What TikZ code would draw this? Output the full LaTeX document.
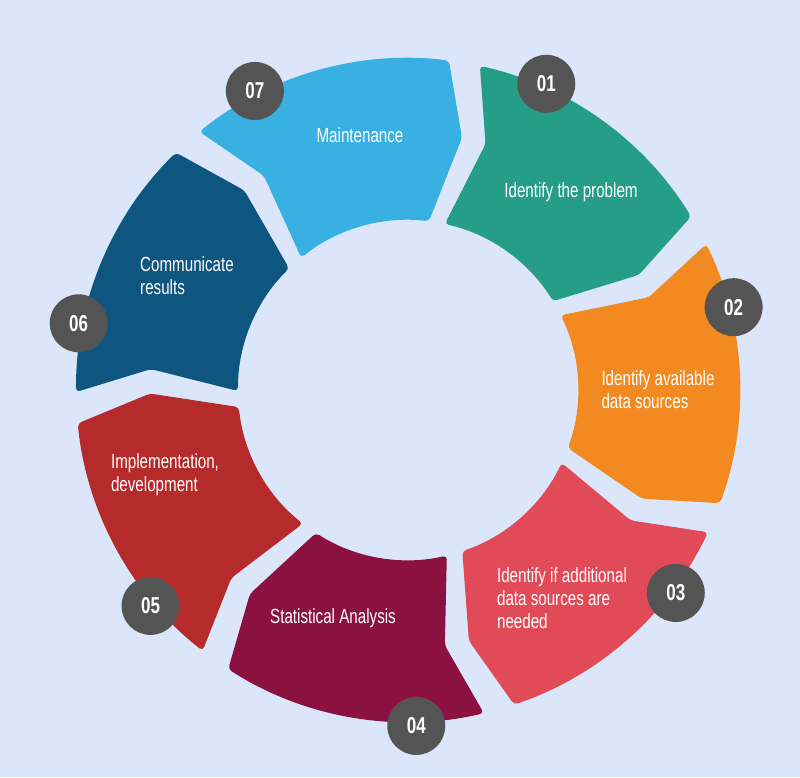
\documentclass[tikz,border=0pt]{standalone}
\usetikzlibrary{calc}
\usepackage{fontspec}
\setmainfont{Liberation Sans}[FakeStretch=0.74]
\begin{document}
\begin{tikzpicture}[x=1pt,y=1pt,
  seg/.style={rounded corners=4pt},
  badge/.style={circle,fill=black!67,minimum size=58pt,inner sep=0pt,text=white,font=\fontsize{23}{23}\selectfont\bfseries},
  lbl/.style={text=white,font=\fontsize{20.5}{23}\selectfont,align=left}]
\fill[color={rgb,255:red,220;green,230;blue,250}] (0,-777) rectangle (800,0);
\useasboundingbox (0,-777) rectangle (800,0);
\coordinate (c) at (408,-390);
\def\R{332}\def\Rm{258}\def\ri{170}
\foreach \k/\col in {0/{rgb,255:red,38;green,158;blue,135},1/{rgb,255:red,242;green,138;blue,33},2/{rgb,255:red,225;green,75;blue,87},3/{rgb,255:red,139;green,18;blue,64},4/{rgb,255:red,181;green,42;blue,42},5/{rgb,255:red,14;green,85;blue,128},6/{rgb,255:red,56;green,176;blue,226}}{
  \pgfmathsetmacro\ts{77.5-\k*51.43}
  \pgfmathsetmacro\te{\ts-46}
  \fill[seg,color=\col] ($(c)+(\ts:\R)$) arc[start angle=\ts,end angle=\te,radius=\R]
    -- ($(c)+(\te-5:\Rm)$) -- ($(c)+(\te:\ri)$)
    arc[start angle=\te,end angle=\ts,radius=\ri]
    -- ($(c)+(\ts-5:\Rm)$) -- cycle;
}
\node[badge] (b1) at ($(c)+(65.7:336)$) {01};
\node[badge] (b2) at ($(c)+(65.7-51.43:336)$) {02};
\node[badge] (b3) at ($(c)+(65.7-2*51.43:336)$) {03};
\node[badge] (b4) at ($(c)+(65.7-3*51.43:336)$) {04};
\node[badge] (b5) at ($(c)+(65.7-4*51.43:336)$) {05};
\node[badge] (b6) at ($(c)+(65.7-5*51.43:336)$) {06};
\node[badge] (b7) at ($(c)+(65.7-6*51.43:336)$) {07};
\node[lbl] (l1) at (571,-192) {Identify the problem};
\node[lbl] (l2) at (658,-390) {Identify available\\data sources};
\node[lbl] (l3) at (562,-598) {Identify if additional\\data sources are\\needed};
\node[lbl] (l4) at (333,-618) {Statistical Analysis};
\node[lbl] (l5) at (165,-475) {Implementation,\\development};
\node[lbl] (l6) at (187,-276) {Communicate\\results};
\node[lbl] (l7) at (360,-135) {Maintenance};
\end{tikzpicture}
\end{document}
